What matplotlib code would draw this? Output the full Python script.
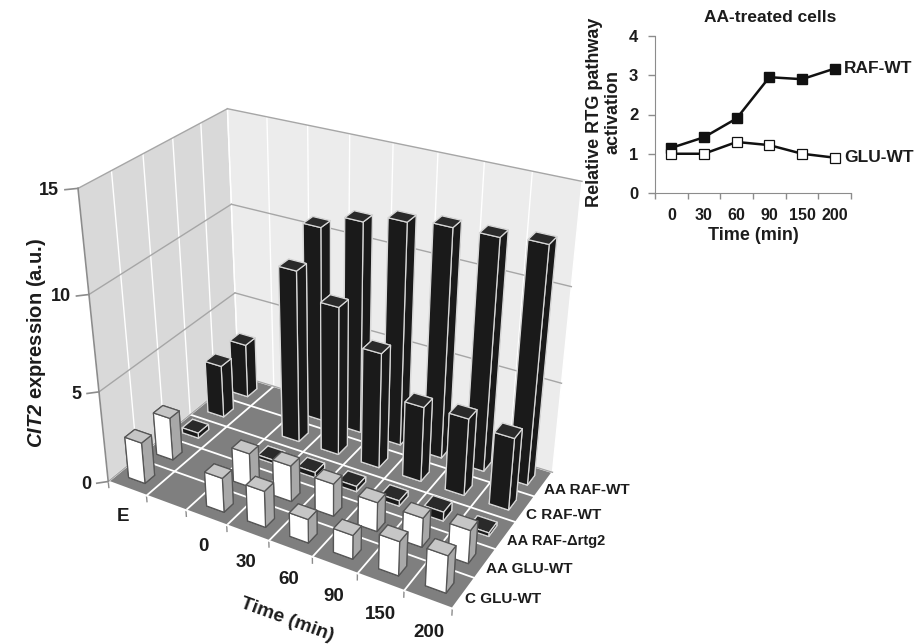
import numpy as np
import matplotlib
matplotlib.use("Agg")
import matplotlib.pyplot as plt
from mpl_toolkits.mplot3d import proj3d
from mpl_toolkits.mplot3d.art3d import Poly3DCollection

plt.rcParams["font.family"] = ["Liberation Sans", "DejaVu Sans"]
plt.rcParams["font.weight"] = "bold"
plt.rcParams["mathtext.fontset"] = "custom"
plt.rcParams["mathtext.bfit"] = "Liberation Sans:italic:bold"
plt.rcParams["mathtext.default"] = "regular"

# 3D chart data, series run from the front of the floor to the back
time_labels = ["E", "", "0", "30", "60", "90", "150", "200"]
series_labels = ["C GLU-WT", "AA GLU-WT", "AA RAF-\u0394rtg2", "C RAF-WT", "AA RAF-WT"]
c_glu_wt = [2.3, None, 1.9, 2.0, 1.3, 1.3, 1.85, 2.0]
aa_glu_wt = [2.4, None, 1.9, 2.0, 1.8, 1.6, 1.6, 1.8]
aa_raf_rtg2 = [0.3, None, 0.2, 0.3, 0.3, 0.3, 0.5, 0.2]
c_raf_wt = [3.0, None, 9.45, 8.15, 6.35, 4.15, 4.25, 3.95]
aa_raf_wt = [3.1, None, 10.75, 11.55, 12.05, 12.3, 12.35, 12.55]
z_ticks = [0, 5, 10, 15]

# inset line chart data
inset_times = ["0", "30", "60", "90", "150", "200"]
inset_raf_wt = [1.15, 1.42, 1.9, 2.95, 2.9, 3.17]
inset_glu_wt = [1.0, 1.0, 1.3, 1.22, 1.0, 0.9]

TEXT = "#1c1c1c"
WHITE_BAR = ["#ffffff", "#c6c6c6", "#ffffff", "#a8a8a8", "#a8a8a8", "#a8a8a8"]
BLACK_BAR = ["#1a1a1a", "#2a2a2a", "#1a1a1a", "#1a1a1a", "#1a1a1a", "#1a1a1a"]


def draw_walls(ax, nx, ny, zmax):
    floor = [[(0, 0, 0), (nx, 0, 0), (nx, ny, 0), (0, ny, 0)]]
    left = [[(0, 0, 0), (0, ny, 0), (0, ny, zmax), (0, 0, zmax)]]
    back = [[(0, ny, 0), (nx, ny, 0), (nx, ny, zmax), (0, ny, zmax)]]
    ax.add_collection3d(Poly3DCollection(floor, facecolor="#7f7f7f", edgecolor="none", zorder=1))
    ax.add_collection3d(Poly3DCollection(left, facecolor="#d9d9d9", edgecolor="none", zorder=1))
    ax.add_collection3d(Poly3DCollection(back, facecolor="#ececec", edgecolor="none", zorder=1))

    for i in range(nx + 1):
        ax.plot([i, i], [0, ny], [0, 0], color="white", lw=1.3, zorder=2)
        ax.plot([i, i], [ny, ny], [0, zmax], color="white", lw=1.0, zorder=2)
        ax.plot([i, i], [0, 0], [0, -0.35], color="#8c8c8c", lw=1.0, zorder=2)
    for j in range(ny + 1):
        ax.plot([0, nx], [j, j], [0, 0], color="white", lw=1.3, zorder=2)
        ax.plot([0, 0], [j, j], [0, zmax], color="white", lw=1.0, zorder=2)
    for z in z_ticks:
        color = "#a6a6a6"
        ax.plot([0, 0], [0, ny], [z, z], color=color, lw=1.0, zorder=2)
        ax.plot([0, nx], [ny, ny], [z, z], color=color, lw=1.0, zorder=2)
        ax.plot([0, -0.17], [0, -0.17], [z, z], color="#8c8c8c", lw=1.2, zorder=2)
    ax.plot([0, 0], [0, 0], [0, zmax], color="#8c8c8c", lw=1.2, zorder=2)


def draw_bars(ax, rows):
    order = 3
    for j in reversed(range(len(rows))):
        width_x, width_y = (0.43, 0.34) if j < 2 else (0.43, 0.4)
        for i, value in enumerate(rows[j]):
            if value is None:
                continue
            colors = WHITE_BAR if j < 2 else BLACK_BAR
            edge = "#555555" if j < 2 else "#d8d8d8"
            bars = ax.bar3d(i + (1 - width_x) / 2, j + (1 - width_y) / 2, 0,
                            width_x, width_y, value, color=colors, shade=False,
                            edgecolor=edge, linewidth=0.9)
            bars.set_zorder(order)
            order += 1


def label_at(ax, x, y, z, label, **kwargs):
    # project by hand so the label is a plain 2D text sitting on the 3D scales
    u, v, _ = proj3d.proj_transform(x, y, z, ax.get_proj())
    ax.text2D(u, v, label, transform=ax.transData, color=TEXT, va="center", **kwargs)


def plot_main(fig):
    # axes box worked out from the corners of the reference floor and walls
    ax = fig.add_axes([42.8 / 918, 15.25 / 644, 562.2 / 918, 562.2 / 644],
                      projection="3d", computed_zorder=False)
    ax.patch.set_visible(False)
    ax.set_axis_off()

    rows = [c_glu_wt, aa_glu_wt, aa_raf_rtg2, c_raf_wt, aa_raf_wt]
    nx, ny = len(time_labels), len(series_labels)
    zmax = z_ticks[-1]
    draw_walls(ax, nx, ny, zmax)
    draw_bars(ax, rows)

    ax.set_xlim(0, nx)
    ax.set_ylim(0, ny)
    ax.set_zlim(0, zmax)
    ax.set_xticks([])
    ax.set_yticks([])
    ax.set_zticks([])
    ax.view_init(elev=29.7, azim=-60.135)
    ax.set_proj_type("persp", focal_length=0.433)
    ax.set_box_aspect((1, 0.6222, 0.8346))

    for z in z_ticks:
        label_at(ax, -0.25, -0.25, z, str(z), fontsize=13, ha="right")
    for i, label in enumerate(time_labels):
        if label:
            label_at(ax, i + 0.8, -0.55, -0.55, label, fontsize=13.5, ha="center")
    for j, label in enumerate(series_labels):
        size = 10.5 if j == 2 else 11
        label_at(ax, nx + 0.03, j + 0.5, -0.3, label, fontsize=size, ha="left")
    return ax


def plot_inset(fig):
    ax = fig.add_axes([655 / 918, (644 - 193) / 644, 196 / 918, 157 / 644])
    ax.patch.set_visible(False)
    x = np.arange(len(inset_times))
    ax.plot(x, inset_raf_wt, color="#111111", lw=1.8, marker="s", ms=7, mfc="#111111", mec="#111111")
    ax.plot(x, inset_glu_wt, color="#111111", lw=1.8, marker="s", ms=7, mfc="white", mec="#111111", mew=0.9)
    ax.set_xlim(-0.5, 5.5)
    ax.set_ylim(0, 4)
    ax.set_yticks(range(5))
    ax.set_xticks(np.arange(-0.5, 6, 1))
    ax.set_xticklabels([])
    ax.set_xticks(x, minor=True)
    ax.set_xticklabels(inset_times, minor=True, fontsize=11.5, color=TEXT)
    ax.tick_params(axis="x", which="major", length=4, width=1, color="#8c8c8c")
    ax.tick_params(axis="x", which="minor", length=0, pad=11)
    ax.tick_params(axis="y", length=5, width=1, color="#8c8c8c", labelsize=12, labelcolor=TEXT, pad=7)
    for side in ("top", "right"):
        ax.spines[side].set_visible(False)
    for side in ("left", "bottom"):
        ax.spines[side].set_color("#8c8c8c")
    ax.set_xlabel("Time (min)", fontsize=13, fontweight="bold", color=TEXT, labelpad=3)
    ax.text(5.28, inset_raf_wt[-1], "RAF-WT", fontsize=12.5, color=TEXT, va="center", clip_on=False)
    ax.text(5.3, inset_glu_wt[-1], "GLU-WT", fontsize=12.5, color=TEXT, va="center", clip_on=False)


def main():
    fig = plt.figure(figsize=(9.18, 6.44), dpi=100)
    plot_main(fig)
    plot_inset(fig)
    fig.text(770 / 918, 1 - 17 / 644, "AA-treated cells", fontsize=12.5, color=TEXT, ha="center", va="center")
    fig.text(604 / 918, 1 - 112 / 644, "Relative RTG pathway\nactivation", rotation=90, fontsize=13,
             color=TEXT, ha="center", va="center", linespacing=1.1, multialignment="center")
    fig.text(37 / 918, 1 - 343 / 644, r"$\mathbfit{CIT2}$ expression (a.u.)", rotation=90,
             fontsize=14.5, color=TEXT, ha="center", va="center")
    fig.text(287 / 918, 1 - 620 / 644, "Time (min)", rotation=-20, fontsize=14, color=TEXT,
             ha="center", va="center")
    fig.savefig("out.png", dpi=100)
    plt.close(fig)


if __name__ == "__main__":
    main()
